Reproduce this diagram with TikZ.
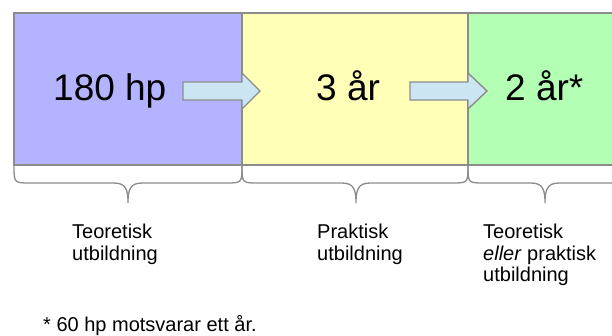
\documentclass[tikz,border=0pt]{standalone}
\usepackage{fontspec}
\setmainfont{Liberation Sans}
\begin{document}
\begin{tikzpicture}[x=1pt,y=-1pt,
  panel/.style={draw=boxgray,line width=1.4pt},
  flowarrow/.style={draw=boxgray,line width=1.4pt,fill=arrowblue,line join=miter},
  bracket/.style={draw=boxgray,line width=1.3pt},
  bigtext/.style={inner sep=0pt,anchor=base west,font=\fontsize{37}{44}\selectfont},
  labeltext/.style={inner sep=0pt,anchor=north west,align=left,font=\fontsize{20}{21.5}\selectfont},
]
\definecolor{boxgray}{HTML}{8C8C8C}
\definecolor{panelblue}{HTML}{B3B3FF}
\definecolor{panelyellow}{HTML}{FFFFB8}
\definecolor{panelgreen}{HTML}{B3FFB3}
\definecolor{arrowblue}{HTML}{CCE5F2}
\useasboundingbox (0,0) rectangle (612,335);
\fill[white] (0,0) rectangle (612,335);

% three stages
\begin{scope}
\clip (0,0) rectangle (612,335);
\draw[panel,fill=panelblue] (14,13) rectangle (242,165);
\draw[panel,fill=panelyellow] (242,13) rectangle (468,165);
\draw[panel,fill=panelgreen] (468,13) rectangle (630,165);
\end{scope}

% arrows between stages
\draw[flowarrow] (183,82) -- (242,82) -- (242,73) -- (260,91) -- (242,109) -- (242,100) -- (183,100) -- cycle;
\draw[flowarrow] (410,82) -- (468,82) -- (468,73) -- (487,91) -- (468,109) -- (468,100) -- (410,100) -- cycle;

\node[bigtext] (t1) at (53,100) {180 hp};
\node[bigtext] (t2) at (316,100) {3 år};
\node[bigtext] (t3) at (505,100) {2 år*};

% braces under the stages
\foreach \a/\m/\b in {14/128/242, 242/356/468, 468/545/622}{
  \draw[bracket] (\a,165) .. controls (\a,183) and (\a,183) .. (\a+16,183)
    -- (\m-14,183) .. controls (\m-2,183) and (\m,190) .. (\m,203)
    .. controls (\m,190) and (\m+2,183) .. (\m+14,183)
    -- (\b-16,183) .. controls (\b,183) and (\b,183) .. (\b,165);
}

\node[labeltext] (l1) at (72,224) {Teoretisk\\utbildning};
\node[labeltext] (l2) at (317,224) {Praktisk\\utbildning};
\node[labeltext] (l3) at (483,224) {Teoretisk\\\textit{eller} praktisk\\utbildning};
\node[inner sep=0pt,anchor=base west,font=\fontsize{20}{21.5}\selectfont] (fn) at (43,331) {* 60 hp motsvarar ett år.};
\end{tikzpicture}
\end{document}
